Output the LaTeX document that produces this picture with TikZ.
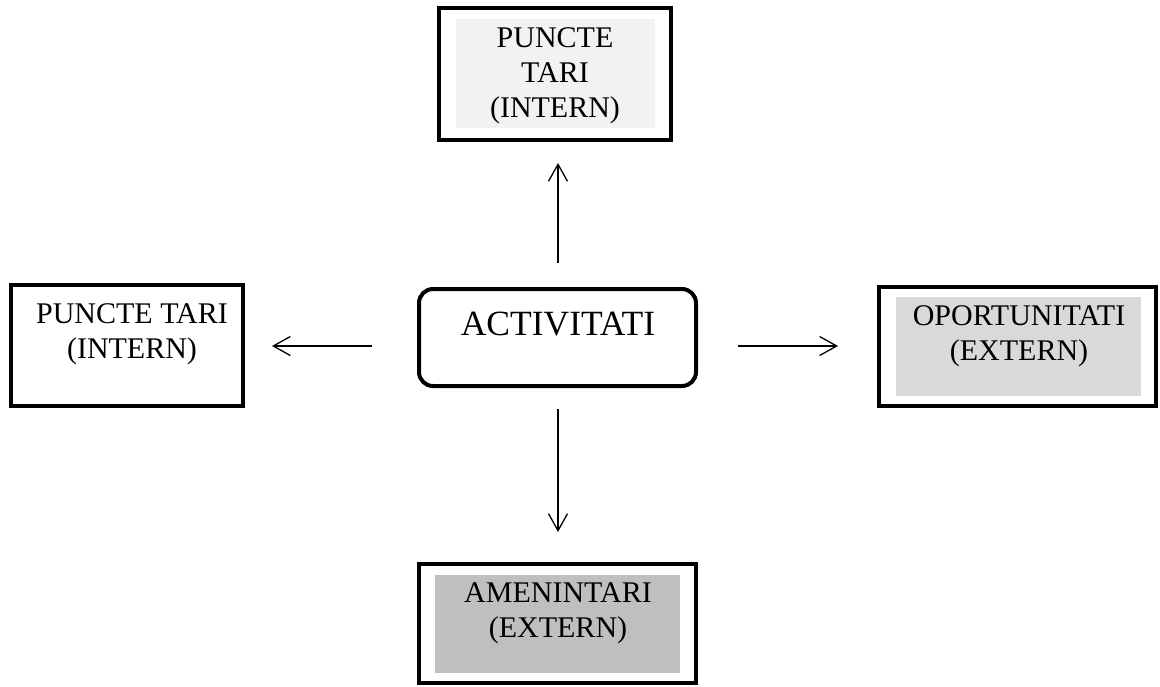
\documentclass[tikz,border=0pt]{standalone}
\usepackage{fontspec}
\setmainfont{Liberation Serif}
\usetikzlibrary{arrows.meta}
\definecolor{fillA}{HTML}{F2F2F2}
\definecolor{fillB}{HTML}{D9D9D9}
\definecolor{fillC}{HTML}{BFBFBF}
\begin{document}
\begin{tikzpicture}[x=1pt,y=-1pt,
  box/.style={draw, line width=4pt, rectangle, outer sep=0pt, inner sep=0pt},
  lbl/.style={inner sep=0pt, anchor=base, font=\fontsize{30}{35}\selectfont},
  biglbl/.style={inner sep=0pt, anchor=base, font=\fontsize{35.5}{40}\selectfont},
  arr/.style={line width=1.3pt, -{Straight Barb[length=17pt,width=19pt]}}]
\useasboundingbox (0,0) rectangle (1160,686);
% boxes
\node[box, minimum width=232pt, minimum height=132pt] (top) at (555,74) {};
\fill[fillA] (456,19) rectangle (655,128);
\node[box, minimum width=232pt, minimum height=121pt] (left) at (127,345.5) {};
\node[box, minimum width=277pt, minimum height=119pt] (right) at (1017.5,346.5) {};
\fill[fillB] (896,297) rectangle (1141,396);
\node[box, minimum width=277pt, minimum height=119pt] (bottom) at (557.5,623.5) {};
\fill[fillC] (435,575) rectangle (680,673);
\node[box, rounded corners=14pt, minimum width=277pt, minimum height=97pt] (act) at (557.5,337.5) {};
% texts
\node[lbl] (t1) at (555,47) {PUNCTE};
\node[lbl] (t2) at (555,82) {TARI};
\node[lbl] (t3) at (555,117) {(INTERN)};
\node[lbl] (l1) at (132,323) {PUNCTE TARI};
\node[lbl] (l2) at (132,358) {(INTERN)};
\node[lbl] (r1) at (1019,325) {OPORTUNITATI};
\node[lbl] (r2) at (1019,360) {(EXTERN)};
\node[lbl] (b1) at (558,602) {AMENINTARI};
\node[lbl] (b2) at (558,637) {(EXTERN)};
\node[biglbl] (a1) at (558,335) {ACTIVITATI};
% arrows
\coordinate (au) at ([xshift=0.5pt]act.north);
\draw[arr, shorten <=26pt, shorten >=23pt] (au) -- (au |- top.south);
\draw[arr, shorten <=23pt, shorten >=32pt] (au |- act.south) -- (au |- bottom.north);
\coordinate (aw) at ([yshift=-8.5pt]act.west);
\coordinate (ae) at ([yshift=-8.5pt]act.east);
\draw[arr, shorten <=47pt, shorten >=29pt] (aw) -- (aw -| left.east);
\draw[arr, shorten <=42pt, shorten >=41pt] (ae) -- (ae -| right.west);
\end{tikzpicture}
\end{document}
